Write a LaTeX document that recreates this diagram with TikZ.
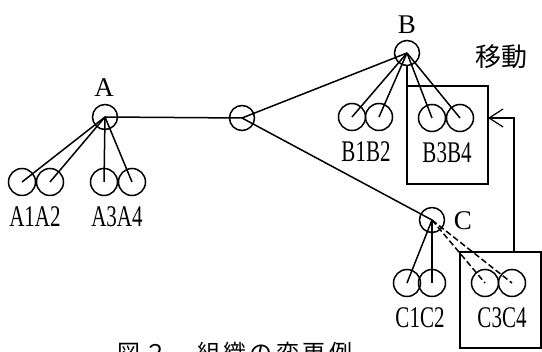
\documentclass[tikz,border=0pt]{standalone}
\usepackage{fontspec}
\setmainfont{Liberation Serif}
\newfontfamily\cjk{Noto Sans CJK JP}
\newfontfamily\capfont[LetterSpace=15]{Noto Sans CJK JP}
\newfontfamily\subfont[FakeStretch=0.7]{Liberation Serif}
\usetikzlibrary{arrows.meta}

\begin{document}
\begin{tikzpicture}[x=1pt,y=-1pt,line width=1.5pt]
\useasboundingbox (0,0) rectangle (542,352);

\tikzstyle{head} = [circle,draw,inner sep=0,minimum size=25];
\tikzstyle{member} = [circle,draw,inner sep=0,minimum size=27];
\tikzstyle{sub} = [font=\subfont\fontsize{30}{30}\selectfont,inner sep=0];
\tikzstyle{unit} = [draw,line width=1.2pt,outer sep=0];
\tikzstyle{moved} = [dash pattern=on 6pt off 3pt];
\tikzstyle{movearrow} = [-{Straight Barb[length=14pt,width=18pt]},line width=1.2pt];

% heads of the organisation
\node[head] (vA) at (105,117) {};
\node[head] (vM) at (242,118) {};
\node[head] (vB) at (407,53) {};
\node[head] (vC) at (432,220) {};
\node[font=\fontsize{27}{27}\selectfont,inner sep=0] at (104,88) {A};
\node[font=\fontsize{27}{27}\selectfont,inner sep=0] at (407,25) {B};
\node[font=\fontsize{27}{27}\selectfont,inner sep=0] at (463,221) {C};

% members
\node[member] (vA1) at (22,182) {};
\node[member] (vA2) at (50,182) {};
\node[member] (vA3) at (104,182) {};
\node[member] (vA4) at (132,182) {};
\node[member] (vB1) at (352,117) {};
\node[member] (vB2) at (379,117) {};
\node[member] (vB3) at (432,118) {};
\node[member] (vB4) at (460,118) {};
\node[member] (vC1) at (407,283) {};
\node[member] (vC2) at (432,283) {};
\node[member] (vC3) at (485,283) {};
\node[member] (vC4) at (512,283) {};

\node[sub] at (35,217) {A1A2};
\node[sub] at (117,217) {A3A4};
\node[sub] at (366,152) {B1B2};
\node[sub] at (447,153) {B3B4};
\node[sub] at (420,318) {C1C2};
\node[sub] at (502,318) {C3C4};

\draw (vA.center) -- (vM.center) -- (vB.center);
\draw (vM.center) -- (vC.center);
\draw (vA.center) -- (vA1.center);
\draw (vA.center) -- (vA2.center);
\draw (vA.center) -- (vA3.center);
\draw (vA.center) -- (vA4.center);
\draw (vB.center) -- (vB1.center);
\draw (vB.center) -- (vB2.center);
\draw (vB.center) -- (vB3.center);
\draw (vB.center) -- (vB4.center);
\draw (vC.center) -- (vC1.center);
\draw (vC.center) -- (vC2.center);
\draw[moved] (vC.center) -- (vC3.center);
\draw[moved] (vC.center) -- (vC4.center);

% moved units
\node[unit,minimum width=81,minimum height=98] (v13) at (447.5,135) {};
\node[unit,minimum width=81,minimum height=96] (v23) at (500.5,300) {};
\draw[line width=1.2pt] (vB.south) -- (v13.north west);
\coordinate (turn) at (514,118);
\draw[movearrow] (v23.north -| turn) -- (turn) -- (turn -| v13.east);
\node[font=\cjk\fontsize{26}{26}\selectfont,inner sep=0] at (501,57) {移動};

\node[font=\capfont\fontsize{23}{23}\selectfont,anchor=base west,inner sep=0] (cap) at (117,362) {図２　組織の変更例};
\end{tikzpicture}
\end{document}
